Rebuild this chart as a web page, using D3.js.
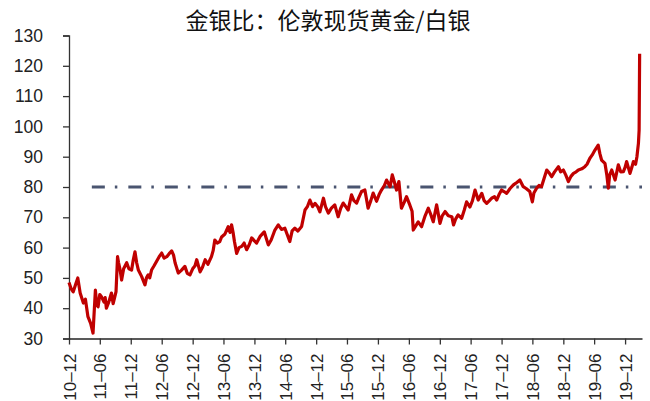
<!DOCTYPE html>
<html>
<head>
<meta charset="utf-8">
<script src="https://cdn.jsdelivr.net/npm/d3@7"></script>
<style>
  body { margin: 0; background: #fff; }
  text { font-family: "Liberation Sans", Arial, sans-serif; }
</style>
</head>
<body>
<svg id="chart" width="650" height="401"></svg>
<script>
// Title
const chartTitle = "金银比：伦敦现货黄金/白银";

// Gold/silver ratio
const dates = [
  "2010-12-01","2010-12-13","2010-12-26","2011-01-10","2011-01-22","2011-02-05","2011-02-24","2011-03-08",
  "2011-03-23","2011-04-08","2011-04-22","2011-05-06","2011-05-14","2011-05-22","2011-06-01","2011-06-11",
  "2011-06-26","2011-07-03","2011-07-10","2011-07-24","2011-08-09","2011-08-19","2011-08-29","2011-09-05",
  "2011-09-14","2011-09-20","2011-09-28","2011-10-08","2011-10-20","2011-11-07","2011-11-20","2011-12-06",
  "2011-12-16","2011-12-26","2012-01-05","2012-01-15","2012-02-03","2012-02-23","2012-03-03","2012-03-13",
  "2012-03-22","2012-04-02","2012-04-17","2012-05-02","2012-05-17","2012-06-01","2012-06-15","2012-07-01",
  "2012-07-15","2012-07-30","2012-08-10","2012-08-19","2012-09-07","2012-09-25","2012-10-16","2012-10-30",
  "2012-11-15","2012-12-01","2012-12-15","2012-12-25","2013-01-14","2013-01-28","2013-02-13","2013-03-01",
  "2013-03-22","2013-04-01","2013-04-11","2013-04-25","2013-05-10","2013-05-21","2013-06-10","2013-06-29",
  "2013-07-10","2013-07-19","2013-07-28","2013-08-05","2013-08-18","2013-09-01","2013-09-17","2013-10-01",
  "2013-10-16","2013-11-01","2013-11-15","2013-12-01","2013-12-14","2014-01-05","2014-01-28","2014-02-21",
  "2014-03-10","2014-04-01","2014-04-21","2014-05-10","2014-05-30","2014-06-15","2014-06-28","2014-07-12",
  "2014-07-28","2014-08-15","2014-09-06","2014-09-26","2014-10-10","2014-10-25","2014-11-10","2014-11-24",
  "2014-12-10","2014-12-23","2015-01-13","2015-01-25","2015-02-11","2015-03-01","2015-03-21","2015-04-10",
  "2015-04-25","2015-05-10","2015-05-25","2015-06-08","2015-06-28","2015-07-12","2015-07-28","2015-08-10",
  "2015-08-26","2015-09-15","2015-10-04","2015-10-20","2015-11-03","2015-11-23","2015-12-08","2015-12-22",
  "2016-01-08","2016-01-21","2016-02-11","2016-02-24","2016-03-08","2016-03-20","2016-04-03","2016-04-18",
  "2016-05-05","2016-05-18","2016-06-07","2016-06-20","2016-06-27","2016-07-10","2016-07-26","2016-08-15",
  "2016-09-05","2016-09-24","2016-10-08","2016-10-23","2016-11-12","2016-12-02","2016-12-15","2017-01-01",
  "2017-01-20","2017-02-10","2017-02-20","2017-03-05","2017-03-19","2017-04-09","2017-04-25","2017-05-08",
  "2017-05-28","2017-06-12","2017-06-27","2017-07-16","2017-08-06","2017-08-20","2017-09-04","2017-09-20",
  "2017-10-03","2017-10-20","2017-11-02","2017-11-16","2017-12-01","2017-12-15","2017-12-31","2018-01-20",
  "2018-02-09","2018-03-01","2018-03-19","2018-04-08","2018-04-25","2018-05-17","2018-06-01","2018-06-10",
  "2018-06-26","2018-07-10","2018-07-25","2018-08-10","2018-08-25","2018-09-10","2018-09-23","2018-10-10",
  "2018-11-02","2018-11-15","2018-12-01","2018-12-15","2018-12-31","2019-01-15","2019-01-30","2019-02-15",
  "2019-02-28","2019-03-20","2019-04-07","2019-04-20","2019-05-07","2019-05-20","2019-06-06","2019-06-25",
  "2019-07-05","2019-07-15","2019-08-04","2019-08-15","2019-08-24","2019-09-01","2019-09-13","2019-10-03",
  "2019-10-22","2019-11-05","2019-11-21","2019-12-01","2019-12-10","2019-12-30","2020-01-10","2020-01-19",
  "2020-02-01","2020-02-09","2020-02-18","2020-02-22","2020-02-25"
];
const ratio = [
  48.5, 46.5, 45.4, 48.0, 50.0, 45.0, 41.7, 43.0,
  37.2, 35.0, 31.8, 46.0, 41.0, 40.5, 44.5, 43.8,
  42.0, 43.5, 40.0, 42.0, 45.0, 41.5, 43.8, 45.5,
  57.0, 55.0, 53.0, 49.3, 53.0, 55.0, 53.0, 52.6,
  56.0, 58.6, 55.0, 52.6, 50.5, 47.7, 50.0, 51.0,
  50.0, 52.6, 54.0, 55.5, 57.0, 58.2, 56.5, 57.0,
  58.0, 58.9, 57.5, 55.0, 51.6, 52.5, 53.8, 51.5,
  51.0, 53.0, 54.0, 56.0, 52.0, 53.5, 56.0, 54.5,
  57.0, 59.0, 62.5, 61.5, 62.0, 63.5, 64.5, 66.9,
  65.0, 67.5, 65.0, 62.0, 58.1, 60.0, 60.4, 61.5,
  59.3, 61.0, 63.2, 62.2, 61.5, 63.8, 65.2, 60.9,
  62.5, 65.8, 67.5, 66.0, 66.4, 64.0, 62.0, 65.5,
  66.4, 65.5, 67.0, 72.4, 73.5, 75.7, 73.5, 74.6,
  73.5, 71.8, 76.3, 73.5, 71.4, 73.0, 74.1, 70.2,
  73.0, 74.7, 73.5, 72.4, 77.4, 75.5, 74.7, 76.5,
  78.5, 79.0, 73.0, 75.5, 78.0, 75.3, 77.5, 79.0,
  80.5, 82.3, 80.1, 84.0, 81.5, 79.0, 81.8, 73.0,
  75.0, 76.8, 74.0, 72.0, 65.8, 67.0, 68.5, 66.9,
  70.5, 73.0, 71.0, 68.5, 74.1, 68.0, 70.5, 71.9,
  70.5, 70.2, 67.5, 69.5, 70.8, 69.7, 72.5, 75.1,
  73.4, 75.5, 79.0, 75.7, 77.9, 75.5, 74.6, 75.5,
  76.3, 76.8, 75.7, 77.5, 79.0, 78.5, 77.9, 79.5,
  80.7, 81.5, 82.3, 80.1, 79.5, 78.5, 75.1, 78.0,
  79.6, 80.5, 80.1, 83.0, 85.6, 84.5, 83.4, 85.0,
  86.7, 85.0, 85.6, 84.0, 81.8, 83.5, 84.5, 85.0,
  85.6, 86.0, 86.7, 87.5, 89.5, 90.5, 92.2, 93.8,
  91.0, 88.9, 87.8, 84.0, 79.6, 84.0, 85.6, 82.3,
  87.3, 85.0, 85.1, 86.5, 88.4, 84.5, 86.5, 88.4,
  87.5, 90.0, 94.5, 98.8, 124.0
];

// Axes
const xTickLabels = ["10–12","11–06","11–12","12–06","12–12","13–06","13–12","14–06","14–12",
  "15–06","15–12","16–06","16–12","17–06","17–12","18–06","18–12","19–06","19–12"];
const yTicks = [30, 40, 50, 60, 70, 80, 90, 100, 110, 120, 130];
const xStart = "2010-12-01";
const xEnd = "2020-03-10";

// Reference line at 80
const refValue = 80;
const refStart = "2011-04-15";

const parse = d3.timeParse("%Y-%m-%d");
const data = dates.map((d, i) => ({ date: parse(d), value: ratio[i] }));

const svg = d3.select("#chart");
const margin = { top: 35.5, right: 8, bottom: 62.5, left: 69 };
const width = 650 - margin.left - margin.right;
const height = 401 - margin.top - margin.bottom;

const x = d3.scaleTime()
  .domain([parse(xStart), parse(xEnd)])
  .range([margin.left, margin.left + width]);

const y = d3.scaleLinear()
  .domain([30, 130])
  .range([margin.top + height, margin.top]);

// Title
svg.append("text")
  .attr("x", 328)
  .attr("y", 29)
  .attr("text-anchor", "middle")
  .style("font-family", '"Noto Sans CJK SC", sans-serif')
  .style("font-size", "23px")
  .attr("fill", "#111")
  .text(chartTitle);

// Y axis
const yAxis = svg.append("g")
  .attr("transform", `translate(${margin.left},0)`)
  .call(d3.axisLeft(y).tickValues(yTicks).tickSize(6).tickPadding(20));
yAxis.select(".domain").attr("stroke", "#333").attr("stroke-width", 1.3);
yAxis.selectAll(".tick line").attr("stroke", "#333").attr("stroke-width", 1.3);
yAxis.selectAll("text")
  .style("font-size", "17.5px")
  .style("font-family", '"Liberation Sans", Arial, sans-serif')
  .attr("fill", "#222");

// X axis with rotated labels
const tickDates = xTickLabels.map(s => {
  const [yy, mm] = s.split("–");
  return new Date(2000 + (+yy), +mm - 1, 1);
});
const xAxis = svg.append("g")
  .attr("transform", `translate(0,${margin.top + height})`)
  .call(d3.axisBottom(x).tickValues(tickDates).tickSize(6).tickSizeOuter(0)
    .tickFormat((d, i) => xTickLabels[i]));
xAxis.select(".domain").attr("stroke", "#222").attr("stroke-width", 1.3);
xAxis.selectAll(".tick line").attr("stroke", "#333").attr("stroke-width", 1.3);
xAxis.selectAll("text")
  .style("font-size", "17px")
  .style("font-family", '"Liberation Sans", Arial, sans-serif')
  .attr("fill", "#222")
  .attr("text-anchor", "end")
  .attr("dy", null)
  .attr("y", 0)
  .attr("transform", "translate(6,15) rotate(-90)");

// Dash-dot line at 80
svg.append("line")
  .attr("x1", x(parse(refStart)))
  .attr("x2", x(parse(xEnd)))
  .attr("y1", y(refValue))
  .attr("y2", y(refValue))
  .attr("stroke", "#4a5570")
  .attr("stroke-width", 3)
  .attr("stroke-dasharray", "13,10,2.5,11");

// Ratio line
const line = d3.line()
  .x(d => x(d.date))
  .y(d => y(d.value));

svg.append("path")
  .datum(data)
  .attr("fill", "none")
  .attr("stroke", "#c00000")
  .attr("stroke-width", 3.2)
  .attr("stroke-linejoin", "round")
  .attr("d", line);
</script>
</body>
</html>
